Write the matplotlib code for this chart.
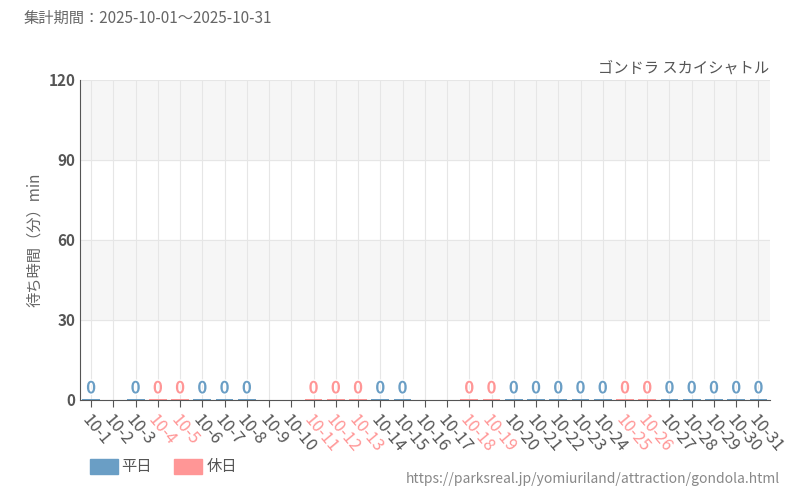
import matplotlib
matplotlib.use("Agg")
import matplotlib.pyplot as plt
import matplotlib.patheffects as pe

plt.rcParams['font.family'] = ['Noto Sans CJK JP', 'DejaVu Sans']

days = [f"10-{d}" for d in range(1, 32)]
holidays = {4, 5, 11, 12, 13, 18, 19, 25, 26}
has_data = [1, 3, 4, 5, 6, 7, 8, 11, 12, 13, 14, 15, 18, 19] + list(range(20, 32))
wait = {d: 0 for d in has_data}

BLUE = "#6a9ec5"
PINK = "#ff9696"

fig = plt.figure(figsize=(8, 5), dpi=100)
ax = fig.add_axes([0.1, 0.2, 0.862, 0.64])
ax.set_xlim(-0.5, 30.5)
ax.set_ylim(0, 120)
for lo in (30, 90):
    ax.axhspan(lo, lo + 30, color="#f6f6f6", zorder=0)
ax.set_yticks([0, 30, 60, 90, 120])
ax.grid(True, color="#e6e6e6", lw=0.8, zorder=1)
ax.set_axisbelow(True)

for i in range(31):
    d = i + 1
    if d in wait:
        c = PINK if d in holidays else BLUE
        ax.bar(i, max(wait[d], 0.4), width=0.8, color=c, zorder=2)
        ax.text(i, wait[d] + 1.0, str(wait[d]), ha="center", va="bottom", color=c,
                fontsize=12, fontweight="bold", zorder=3,
                path_effects=[pe.withStroke(linewidth=2, foreground="white")])

ax.set_xticks(range(31))
ax.set_xticklabels(days, rotation=-50, ha="left", rotation_mode="anchor", fontsize=12)
for i, lab in enumerate(ax.get_xticklabels()):
    lab.set_color(PINK if (i + 1) in holidays else "#555555")
ax.tick_params(axis="y", labelsize=11, colors="#555555", length=0)
ax.tick_params(axis="x", length=5, color="#555555")
for lab in ax.get_yticklabels():
    lab.set_fontweight("bold")
for s in ("top", "right"):
    ax.spines[s].set_visible(False)
ax.spines["left"].set_color("#555555")
ax.spines["bottom"].set_color("#555555")
ax.set_ylabel("待ち時間（分）min", color="#666666", fontsize=11)

fig.text(0.03, 0.955, "集計期間：2025-10-01～2025-10-31", fontsize=11, color="#666666")
fig.text(0.962, 0.855, "ゴンドラ スカイシャトル", fontsize=11, color="#555555", ha="right")
fig.patches.append(plt.Rectangle((0.112, 0.053), 0.035, 0.03, color=BLUE, transform=fig.transFigure))
fig.text(0.152, 0.066, "平日", fontsize=11, color="#555555", va="center")
fig.patches.append(plt.Rectangle((0.218, 0.053), 0.035, 0.03, color=PINK, transform=fig.transFigure))
fig.text(0.258, 0.066, "休日", fontsize=11, color="#555555", va="center")
fig.text(0.975, 0.035, "https://parksreal.jp/yomiuriland/attraction/gondola.html",
         fontsize=10, color="#888888", ha="right")

fig.savefig("out.png", dpi=100)
